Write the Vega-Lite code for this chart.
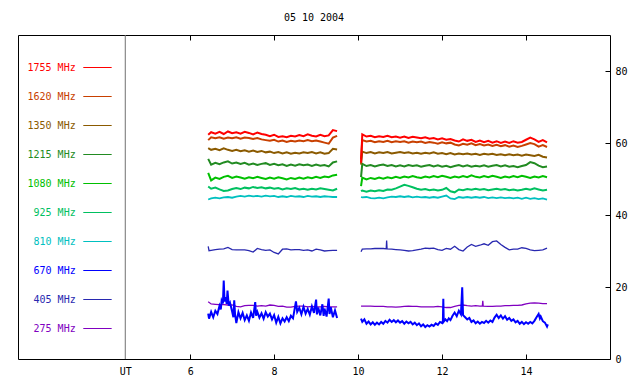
{
"$schema": "https://vega.github.io/schema/vega-lite/v6.json",
"width": 592, "height": 324,
"autosize": {"type": "none"},
"padding": {"left": 18, "top": 35, "right": 30, "bottom": 25},
"background": "white",
"config": {"view": {"stroke": "black", "strokeWidth": 1}, "font": "DejaVu Sans Mono",
  "axis": {"labelFont": "DejaVu Sans Mono", "labelFontSize": 10, "labelColor": "black", "tickColor": "black", "grid": false, "domain": false, "title": null}},
"title": {"text": "05 10 2004", "fontSize": 10, "fontWeight": "normal", "font": "DejaVu Sans Mono", "color": "black", "offset": 12},
"datasets": {
"bands": [{"band":"1755 MHz"},{"band":"1620 MHz"},{"band":"1350 MHz"},{"band":"1215 MHz"},{"band":"1080 MHz"},{"band":"925 MHz"},{"band":"810 MHz"},{"band":"670 MHz"},{"band":"405 MHz"},{"band":"275 MHz"}],
"marker": [{"label":"UT"}],
"f1755": [{"hour":6.43,"sfu":62.3},{"hour":6.5,"sfu":63.0},{"hour":6.6,"sfu":62.6},{"hour":6.7,"sfu":63.1},{"hour":6.8,"sfu":62.5},{"hour":6.9,"sfu":63.2},{"hour":7.0,"sfu":62.7},{"hour":7.1,"sfu":63.0},{"hour":7.2,"sfu":62.6},{"hour":7.3,"sfu":63.1},{"hour":7.4,"sfu":62.8},{"hour":7.5,"sfu":62.4},{"hour":7.6,"sfu":62.9},{"hour":7.7,"sfu":62.5},{"hour":7.8,"sfu":62.3},{"hour":7.9,"sfu":61.9},{"hour":8.0,"sfu":62.3},{"hour":8.1,"sfu":61.7},{"hour":8.2,"sfu":61.9},{"hour":8.3,"sfu":61.6},{"hour":8.4,"sfu":62.0},{"hour":8.5,"sfu":61.8},{"hour":8.6,"sfu":62.2},{"hour":8.7,"sfu":61.9},{"hour":8.8,"sfu":62.4},{"hour":8.9,"sfu":62.0},{"hour":9.0,"sfu":61.8},{"hour":9.1,"sfu":62.3},{"hour":9.2,"sfu":61.9},{"hour":9.3,"sfu":62.1},{"hour":9.4,"sfu":63.6},{"hour":9.5,"sfu":63.3},{"hour":9.8,"sfu":null},
{"hour":10.07,"sfu":54.5},{"hour":10.1,"sfu":62.4},{"hour":10.2,"sfu":61.8},{"hour":10.3,"sfu":62.0},{"hour":10.4,"sfu":61.6},{"hour":10.5,"sfu":61.9},{"hour":10.6,"sfu":61.7},{"hour":10.7,"sfu":62.0},{"hour":10.8,"sfu":61.6},{"hour":10.9,"sfu":61.8},{"hour":11.0,"sfu":61.5},{"hour":11.1,"sfu":61.8},{"hour":11.2,"sfu":61.4},{"hour":11.3,"sfu":61.7},{"hour":11.4,"sfu":61.5},{"hour":11.5,"sfu":61.3},{"hour":11.6,"sfu":61.6},{"hour":11.7,"sfu":61.2},{"hour":11.8,"sfu":61.4},{"hour":11.9,"sfu":61.0},{"hour":12.0,"sfu":61.3},{"hour":12.1,"sfu":60.9},{"hour":12.2,"sfu":61.1},{"hour":12.3,"sfu":60.7},{"hour":12.4,"sfu":60.4},{"hour":12.5,"sfu":61.0},{"hour":12.6,"sfu":60.6},{"hour":12.7,"sfu":60.9},{"hour":12.8,"sfu":60.3},{"hour":12.9,"sfu":60.7},{"hour":13.0,"sfu":60.2},{"hour":13.1,"sfu":60.6},{"hour":13.2,"sfu":60.1},{"hour":13.3,"sfu":60.5},{"hour":13.4,"sfu":60.0},{"hour":13.5,"sfu":60.4},{"hour":13.6,"sfu":60.0},{"hour":13.7,"sfu":60.5},{"hour":13.8,"sfu":60.1},{"hour":13.9,"sfu":60.3},{"hour":14.0,"sfu":60.9},{"hour":14.1,"sfu":61.5},{"hour":14.2,"sfu":61.0},{"hour":14.3,"sfu":60.3},{"hour":14.4,"sfu":60.8},{"hour":14.5,"sfu":60.2}],
"f1620": [{"hour":6.43,"sfu":60.8},{"hour":6.5,"sfu":61.6},{"hour":6.6,"sfu":61.3},{"hour":6.7,"sfu":61.6},{"hour":6.8,"sfu":61.2},{"hour":6.9,"sfu":61.5},{"hour":7.0,"sfu":61.3},{"hour":7.1,"sfu":61.6},{"hour":7.2,"sfu":61.2},{"hour":7.3,"sfu":61.5},{"hour":7.4,"sfu":61.4},{"hour":7.5,"sfu":61.1},{"hour":7.6,"sfu":61.4},{"hour":7.7,"sfu":61.0},{"hour":7.8,"sfu":60.8},{"hour":7.9,"sfu":60.6},{"hour":8.0,"sfu":60.9},{"hour":8.1,"sfu":60.4},{"hour":8.2,"sfu":60.7},{"hour":8.3,"sfu":60.3},{"hour":8.4,"sfu":60.6},{"hour":8.5,"sfu":60.4},{"hour":8.6,"sfu":60.7},{"hour":8.7,"sfu":60.5},{"hour":8.8,"sfu":60.8},{"hour":8.9,"sfu":60.5},{"hour":9.0,"sfu":60.7},{"hour":9.1,"sfu":60.4},{"hour":9.2,"sfu":60.1},{"hour":9.3,"sfu":59.8},{"hour":9.4,"sfu":61.5},{"hour":9.5,"sfu":62.0},{"hour":9.8,"sfu":null},
{"hour":10.07,"sfu":55.5},{"hour":10.1,"sfu":60.8},{"hour":10.2,"sfu":60.4},{"hour":10.3,"sfu":60.6},{"hour":10.4,"sfu":60.2},{"hour":10.5,"sfu":60.5},{"hour":10.6,"sfu":60.3},{"hour":10.7,"sfu":60.6},{"hour":10.8,"sfu":60.2},{"hour":10.9,"sfu":60.5},{"hour":11.0,"sfu":60.3},{"hour":11.1,"sfu":60.5},{"hour":11.2,"sfu":60.1},{"hour":11.3,"sfu":60.4},{"hour":11.4,"sfu":60.2},{"hour":11.5,"sfu":60.4},{"hour":11.6,"sfu":60.0},{"hour":11.7,"sfu":60.3},{"hour":11.8,"sfu":60.1},{"hour":11.9,"sfu":59.8},{"hour":12.0,"sfu":60.2},{"hour":12.1,"sfu":59.9},{"hour":12.2,"sfu":60.1},{"hour":12.3,"sfu":59.6},{"hour":12.4,"sfu":59.3},{"hour":12.5,"sfu":59.8},{"hour":12.6,"sfu":59.5},{"hour":12.7,"sfu":59.9},{"hour":12.8,"sfu":59.4},{"hour":12.9,"sfu":59.7},{"hour":13.0,"sfu":59.3},{"hour":13.1,"sfu":59.6},{"hour":13.2,"sfu":59.2},{"hour":13.3,"sfu":59.5},{"hour":13.4,"sfu":59.1},{"hour":13.5,"sfu":59.4},{"hour":13.6,"sfu":59.0},{"hour":13.7,"sfu":59.3},{"hour":13.8,"sfu":58.9},{"hour":13.9,"sfu":59.2},{"hour":14.0,"sfu":59.6},{"hour":14.1,"sfu":60.0},{"hour":14.2,"sfu":59.7},{"hour":14.3,"sfu":59.0},{"hour":14.4,"sfu":59.4},{"hour":14.5,"sfu":58.9}],
"f1350": [{"hour":6.43,"sfu":58.6},{"hour":6.5,"sfu":58.1},{"hour":6.6,"sfu":58.4},{"hour":6.7,"sfu":58.0},{"hour":6.8,"sfu":58.5},{"hour":6.9,"sfu":58.1},{"hour":7.0,"sfu":57.8},{"hour":7.1,"sfu":58.1},{"hour":7.2,"sfu":57.7},{"hour":7.3,"sfu":58.0},{"hour":7.4,"sfu":57.6},{"hour":7.5,"sfu":57.9},{"hour":7.6,"sfu":57.5},{"hour":7.7,"sfu":57.8},{"hour":7.8,"sfu":57.4},{"hour":7.9,"sfu":57.6},{"hour":8.0,"sfu":57.2},{"hour":8.1,"sfu":57.5},{"hour":8.2,"sfu":57.1},{"hour":8.3,"sfu":57.4},{"hour":8.4,"sfu":57.0},{"hour":8.5,"sfu":57.3},{"hour":8.6,"sfu":57.1},{"hour":8.7,"sfu":57.4},{"hour":8.8,"sfu":57.2},{"hour":8.9,"sfu":57.5},{"hour":9.0,"sfu":57.1},{"hour":9.1,"sfu":57.4},{"hour":9.2,"sfu":57.0},{"hour":9.3,"sfu":57.2},{"hour":9.4,"sfu":58.4},{"hour":9.5,"sfu":58.2},{"hour":9.8,"sfu":null},
{"hour":10.07,"sfu":54.0},{"hour":10.1,"sfu":57.6},{"hour":10.2,"sfu":57.2},{"hour":10.3,"sfu":57.5},{"hour":10.4,"sfu":57.1},{"hour":10.5,"sfu":57.4},{"hour":10.6,"sfu":57.2},{"hour":10.7,"sfu":57.5},{"hour":10.8,"sfu":57.1},{"hour":10.9,"sfu":57.3},{"hour":11.0,"sfu":57.5},{"hour":11.1,"sfu":57.2},{"hour":11.2,"sfu":57.4},{"hour":11.3,"sfu":57.1},{"hour":11.4,"sfu":57.3},{"hour":11.5,"sfu":57.0},{"hour":11.6,"sfu":57.3},{"hour":11.7,"sfu":57.1},{"hour":11.8,"sfu":57.4},{"hour":11.9,"sfu":57.0},{"hour":12.0,"sfu":57.2},{"hour":12.1,"sfu":56.9},{"hour":12.2,"sfu":57.2},{"hour":12.3,"sfu":56.8},{"hour":12.4,"sfu":57.1},{"hour":12.5,"sfu":56.9},{"hour":12.6,"sfu":57.1},{"hour":12.7,"sfu":56.8},{"hour":12.8,"sfu":57.0},{"hour":12.9,"sfu":56.7},{"hour":13.0,"sfu":57.0},{"hour":13.1,"sfu":56.8},{"hour":13.2,"sfu":57.0},{"hour":13.3,"sfu":56.7},{"hour":13.4,"sfu":56.9},{"hour":13.5,"sfu":56.6},{"hour":13.6,"sfu":56.9},{"hour":13.7,"sfu":56.6},{"hour":13.8,"sfu":56.8},{"hour":13.9,"sfu":56.5},{"hour":14.0,"sfu":56.8},{"hour":14.1,"sfu":56.6},{"hour":14.2,"sfu":56.4},{"hour":14.3,"sfu":56.7},{"hour":14.4,"sfu":56.2},{"hour":14.5,"sfu":56.0}],
"f1215": [{"hour":6.43,"sfu":55.6},{"hour":6.5,"sfu":54.0},{"hour":6.6,"sfu":54.5},{"hour":6.7,"sfu":54.1},{"hour":6.8,"sfu":54.6},{"hour":6.9,"sfu":54.9},{"hour":7.0,"sfu":54.3},{"hour":7.1,"sfu":54.6},{"hour":7.2,"sfu":54.2},{"hour":7.3,"sfu":54.5},{"hour":7.4,"sfu":54.0},{"hour":7.5,"sfu":54.3},{"hour":7.6,"sfu":53.9},{"hour":7.7,"sfu":54.2},{"hour":7.8,"sfu":54.4},{"hour":7.9,"sfu":53.9},{"hour":8.0,"sfu":54.2},{"hour":8.1,"sfu":53.8},{"hour":8.2,"sfu":54.1},{"hour":8.3,"sfu":53.6},{"hour":8.4,"sfu":54.0},{"hour":8.5,"sfu":53.7},{"hour":8.6,"sfu":54.1},{"hour":8.7,"sfu":53.8},{"hour":8.8,"sfu":54.0},{"hour":8.9,"sfu":53.6},{"hour":9.0,"sfu":54.0},{"hour":9.1,"sfu":53.7},{"hour":9.2,"sfu":53.9},{"hour":9.3,"sfu":53.5},{"hour":9.4,"sfu":54.6},{"hour":9.5,"sfu":54.9},{"hour":9.8,"sfu":null},
{"hour":10.07,"sfu":50.5},{"hour":10.1,"sfu":54.2},{"hour":10.2,"sfu":53.6},{"hour":10.3,"sfu":53.9},{"hour":10.4,"sfu":53.5},{"hour":10.5,"sfu":53.8},{"hour":10.6,"sfu":54.0},{"hour":10.7,"sfu":53.6},{"hour":10.8,"sfu":53.9},{"hour":10.9,"sfu":53.5},{"hour":11.0,"sfu":53.8},{"hour":11.1,"sfu":53.5},{"hour":11.2,"sfu":53.9},{"hour":11.3,"sfu":53.6},{"hour":11.4,"sfu":53.8},{"hour":11.5,"sfu":53.4},{"hour":11.6,"sfu":53.7},{"hour":11.7,"sfu":53.9},{"hour":11.8,"sfu":53.5},{"hour":11.9,"sfu":53.8},{"hour":12.0,"sfu":53.4},{"hour":12.1,"sfu":53.7},{"hour":12.2,"sfu":53.3},{"hour":12.3,"sfu":53.6},{"hour":12.4,"sfu":53.9},{"hour":12.5,"sfu":53.5},{"hour":12.6,"sfu":53.8},{"hour":12.7,"sfu":53.4},{"hour":12.8,"sfu":53.7},{"hour":12.9,"sfu":53.5},{"hour":13.0,"sfu":53.8},{"hour":13.1,"sfu":53.4},{"hour":13.2,"sfu":53.7},{"hour":13.3,"sfu":53.9},{"hour":13.4,"sfu":53.5},{"hour":13.5,"sfu":53.8},{"hour":13.6,"sfu":53.4},{"hour":13.7,"sfu":53.6},{"hour":13.8,"sfu":53.3},{"hour":13.9,"sfu":53.6},{"hour":14.0,"sfu":53.9},{"hour":14.1,"sfu":54.7},{"hour":14.2,"sfu":54.4},{"hour":14.3,"sfu":53.7},{"hour":14.4,"sfu":53.3},{"hour":14.5,"sfu":53.5}],
"f1080": [{"hour":6.43,"sfu":51.7},{"hour":6.5,"sfu":49.6},{"hour":6.6,"sfu":50.4},{"hour":6.7,"sfu":50.0},{"hour":6.8,"sfu":50.6},{"hour":6.9,"sfu":50.9},{"hour":7.0,"sfu":50.3},{"hour":7.1,"sfu":50.7},{"hour":7.2,"sfu":50.4},{"hour":7.3,"sfu":50.1},{"hour":7.4,"sfu":50.5},{"hour":7.5,"sfu":50.2},{"hour":7.6,"sfu":50.6},{"hour":7.7,"sfu":50.3},{"hour":7.8,"sfu":50.0},{"hour":7.9,"sfu":50.4},{"hour":8.0,"sfu":50.1},{"hour":8.1,"sfu":50.5},{"hour":8.2,"sfu":50.2},{"hour":8.3,"sfu":49.9},{"hour":8.4,"sfu":50.3},{"hour":8.5,"sfu":50.0},{"hour":8.6,"sfu":50.4},{"hour":8.7,"sfu":50.1},{"hour":8.8,"sfu":50.5},{"hour":8.9,"sfu":50.2},{"hour":9.0,"sfu":50.6},{"hour":9.1,"sfu":50.3},{"hour":9.2,"sfu":50.7},{"hour":9.3,"sfu":50.5},{"hour":9.4,"sfu":51.0},{"hour":9.5,"sfu":51.2},{"hour":9.8,"sfu":null},
{"hour":10.07,"sfu":48.0},{"hour":10.1,"sfu":50.4},{"hour":10.2,"sfu":49.9},{"hour":10.3,"sfu":50.3},{"hour":10.4,"sfu":50.0},{"hour":10.5,"sfu":50.4},{"hour":10.6,"sfu":50.1},{"hour":10.7,"sfu":50.5},{"hour":10.8,"sfu":50.2},{"hour":10.9,"sfu":50.6},{"hour":11.0,"sfu":50.3},{"hour":11.1,"sfu":50.7},{"hour":11.2,"sfu":50.4},{"hour":11.3,"sfu":50.8},{"hour":11.4,"sfu":50.5},{"hour":11.5,"sfu":50.3},{"hour":11.6,"sfu":50.7},{"hour":11.7,"sfu":50.4},{"hour":11.8,"sfu":50.8},{"hour":11.9,"sfu":50.5},{"hour":12.0,"sfu":50.9},{"hour":12.1,"sfu":50.6},{"hour":12.2,"sfu":50.3},{"hour":12.3,"sfu":50.7},{"hour":12.4,"sfu":50.4},{"hour":12.5,"sfu":50.8},{"hour":12.6,"sfu":50.5},{"hour":12.7,"sfu":51.0},{"hour":12.8,"sfu":50.6},{"hour":12.9,"sfu":50.4},{"hour":13.0,"sfu":50.8},{"hour":13.1,"sfu":50.5},{"hour":13.2,"sfu":50.9},{"hour":13.3,"sfu":50.6},{"hour":13.4,"sfu":50.3},{"hour":13.5,"sfu":50.7},{"hour":13.6,"sfu":50.4},{"hour":13.7,"sfu":50.8},{"hour":13.8,"sfu":50.5},{"hour":13.9,"sfu":50.9},{"hour":14.0,"sfu":50.6},{"hour":14.1,"sfu":50.3},{"hour":14.2,"sfu":50.7},{"hour":14.3,"sfu":50.4},{"hour":14.4,"sfu":50.8},{"hour":14.5,"sfu":50.5}],
"f925": [{"hour":6.43,"sfu":47.9},{"hour":6.5,"sfu":47.3},{"hour":6.6,"sfu":47.6},{"hour":6.7,"sfu":47.1},{"hour":6.8,"sfu":46.7},{"hour":6.9,"sfu":46.8},{"hour":7.0,"sfu":47.2},{"hour":7.1,"sfu":47.5},{"hour":7.2,"sfu":47.2},{"hour":7.3,"sfu":47.6},{"hour":7.4,"sfu":47.4},{"hour":7.5,"sfu":47.8},{"hour":7.6,"sfu":47.5},{"hour":7.7,"sfu":47.7},{"hour":7.8,"sfu":47.4},{"hour":7.9,"sfu":47.6},{"hour":8.0,"sfu":47.3},{"hour":8.1,"sfu":47.5},{"hour":8.2,"sfu":47.1},{"hour":8.3,"sfu":47.4},{"hour":8.4,"sfu":47.2},{"hour":8.5,"sfu":47.5},{"hour":8.6,"sfu":47.1},{"hour":8.7,"sfu":47.3},{"hour":8.8,"sfu":47.0},{"hour":8.9,"sfu":47.3},{"hour":9.0,"sfu":47.1},{"hour":9.1,"sfu":47.4},{"hour":9.2,"sfu":47.2},{"hour":9.3,"sfu":47.0},{"hour":9.4,"sfu":46.8},{"hour":9.5,"sfu":47.3},{"hour":9.8,"sfu":null},
{"hour":10.07,"sfu":46.6},{"hour":10.1,"sfu":46.8},{"hour":10.2,"sfu":46.5},{"hour":10.3,"sfu":46.8},{"hour":10.4,"sfu":46.6},{"hour":10.5,"sfu":46.9},{"hour":10.6,"sfu":46.7},{"hour":10.7,"sfu":47.1},{"hour":10.8,"sfu":47.0},{"hour":10.9,"sfu":47.4},{"hour":11.0,"sfu":47.9},{"hour":11.1,"sfu":48.4},{"hour":11.2,"sfu":48.1},{"hour":11.3,"sfu":47.7},{"hour":11.4,"sfu":47.3},{"hour":11.5,"sfu":47.0},{"hour":11.6,"sfu":47.2},{"hour":11.7,"sfu":46.9},{"hour":11.8,"sfu":47.1},{"hour":11.9,"sfu":46.8},{"hour":12.0,"sfu":47.0},{"hour":12.1,"sfu":47.5},{"hour":12.2,"sfu":46.6},{"hour":12.3,"sfu":46.3},{"hour":12.4,"sfu":47.1},{"hour":12.5,"sfu":46.9},{"hour":12.6,"sfu":47.2},{"hour":12.7,"sfu":47.0},{"hour":12.8,"sfu":47.3},{"hour":12.9,"sfu":47.0},{"hour":13.0,"sfu":47.2},{"hour":13.1,"sfu":46.9},{"hour":13.2,"sfu":47.1},{"hour":13.3,"sfu":47.3},{"hour":13.4,"sfu":47.0},{"hour":13.5,"sfu":47.2},{"hour":13.6,"sfu":46.9},{"hour":13.7,"sfu":47.1},{"hour":13.8,"sfu":46.8},{"hour":13.9,"sfu":47.0},{"hour":14.0,"sfu":47.3},{"hour":14.1,"sfu":47.0},{"hour":14.2,"sfu":47.4},{"hour":14.3,"sfu":47.1},{"hour":14.4,"sfu":46.8},{"hour":14.5,"sfu":47.0}],
"f810": [{"hour":6.43,"sfu":44.3},{"hour":6.5,"sfu":44.6},{"hour":6.6,"sfu":44.8},{"hour":6.7,"sfu":44.6},{"hour":6.8,"sfu":44.9},{"hour":6.9,"sfu":45.0},{"hour":7.0,"sfu":44.8},{"hour":7.1,"sfu":45.1},{"hour":7.2,"sfu":45.3},{"hour":7.3,"sfu":45.1},{"hour":7.4,"sfu":45.4},{"hour":7.5,"sfu":45.2},{"hour":7.6,"sfu":45.3},{"hour":7.7,"sfu":45.1},{"hour":7.8,"sfu":45.4},{"hour":7.9,"sfu":45.2},{"hour":8.0,"sfu":45.3},{"hour":8.1,"sfu":45.0},{"hour":8.2,"sfu":45.2},{"hour":8.3,"sfu":45.0},{"hour":8.4,"sfu":45.3},{"hour":8.5,"sfu":45.1},{"hour":8.6,"sfu":45.2},{"hour":8.7,"sfu":45.0},{"hour":8.8,"sfu":45.3},{"hour":8.9,"sfu":45.1},{"hour":9.0,"sfu":45.2},{"hour":9.1,"sfu":45.0},{"hour":9.2,"sfu":45.2},{"hour":9.3,"sfu":45.1},{"hour":9.4,"sfu":45.0},{"hour":9.5,"sfu":45.0},{"hour":9.8,"sfu":null},
{"hour":10.07,"sfu":45.0},{"hour":10.1,"sfu":44.9},{"hour":10.2,"sfu":45.0},{"hour":10.3,"sfu":44.7},{"hour":10.4,"sfu":44.6},{"hour":10.5,"sfu":44.8},{"hour":10.6,"sfu":44.6},{"hour":10.7,"sfu":44.9},{"hour":10.8,"sfu":45.1},{"hour":10.9,"sfu":45.0},{"hour":11.0,"sfu":45.2},{"hour":11.1,"sfu":45.0},{"hour":11.2,"sfu":45.2},{"hour":11.3,"sfu":44.9},{"hour":11.4,"sfu":45.1},{"hour":11.5,"sfu":44.9},{"hour":11.6,"sfu":45.0},{"hour":11.7,"sfu":44.8},{"hour":11.8,"sfu":45.0},{"hour":11.9,"sfu":44.8},{"hour":12.0,"sfu":45.1},{"hour":12.1,"sfu":45.4},{"hour":12.2,"sfu":44.6},{"hour":12.3,"sfu":44.4},{"hour":12.4,"sfu":45.0},{"hour":12.5,"sfu":44.8},{"hour":12.6,"sfu":45.0},{"hour":12.7,"sfu":44.8},{"hour":12.8,"sfu":45.0},{"hour":12.9,"sfu":44.8},{"hour":13.0,"sfu":45.0},{"hour":13.1,"sfu":44.7},{"hour":13.2,"sfu":44.9},{"hour":13.3,"sfu":44.7},{"hour":13.4,"sfu":44.9},{"hour":13.5,"sfu":44.7},{"hour":13.6,"sfu":44.8},{"hour":13.7,"sfu":44.6},{"hour":13.8,"sfu":44.8},{"hour":13.9,"sfu":44.5},{"hour":14.0,"sfu":44.8},{"hour":14.1,"sfu":44.5},{"hour":14.2,"sfu":44.7},{"hour":14.3,"sfu":44.4},{"hour":14.4,"sfu":44.6},{"hour":14.5,"sfu":44.3}],
"f670": [{"hour":6.43,"sfu":12.6},{"hour":6.45,"sfu":11.2},{"hour":6.5,"sfu":13.1},{"hour":6.55,"sfu":11.6},{"hour":6.6,"sfu":13.4},{"hour":6.65,"sfu":12.5},{"hour":6.7,"sfu":14.8},{"hour":6.73,"sfu":13.8},{"hour":6.75,"sfu":16.2},{"hour":6.78,"sfu":15.4},{"hour":6.8,"sfu":21.8},{"hour":6.82,"sfu":16.0},{"hour":6.85,"sfu":17.2},{"hour":6.87,"sfu":15.3},{"hour":6.89,"sfu":19.0},{"hour":6.92,"sfu":14.8},{"hour":6.95,"sfu":15.6},{"hour":7.0,"sfu":13.2},{"hour":7.03,"sfu":11.6},{"hour":7.05,"sfu":16.3},{"hour":7.07,"sfu":12.4},{"hour":7.1,"sfu":10.0},{"hour":7.15,"sfu":13.0},{"hour":7.2,"sfu":11.3},{"hour":7.25,"sfu":12.8},{"hour":7.3,"sfu":10.8},{"hour":7.35,"sfu":12.1},{"hour":7.4,"sfu":10.6},{"hour":7.45,"sfu":12.9},{"hour":7.5,"sfu":11.4},{"hour":7.55,"sfu":15.8},{"hour":7.57,"sfu":12.0},{"hour":7.6,"sfu":13.1},{"hour":7.65,"sfu":11.5},{"hour":7.7,"sfu":12.7},{"hour":7.75,"sfu":11.2},{"hour":7.8,"sfu":13.0},{"hour":7.85,"sfu":11.8},{"hour":7.9,"sfu":12.6},{"hour":7.95,"sfu":11.0},{"hour":8.0,"sfu":12.2},{"hour":8.05,"sfu":10.1},{"hour":8.1,"sfu":11.7},{"hour":8.15,"sfu":9.9},{"hour":8.2,"sfu":11.3},{"hour":8.25,"sfu":10.4},{"hour":8.3,"sfu":11.6},{"hour":8.35,"sfu":10.5},{"hour":8.4,"sfu":12.0},{"hour":8.45,"sfu":11.3},{"hour":8.5,"sfu":14.6},{"hour":8.52,"sfu":16.0},{"hour":8.55,"sfu":13.1},{"hour":8.6,"sfu":14.2},{"hour":8.65,"sfu":12.4},{"hour":8.7,"sfu":14.5},{"hour":8.75,"sfu":12.6},{"hour":8.8,"sfu":13.9},{"hour":8.85,"sfu":12.3},{"hour":8.9,"sfu":14.6},{"hour":8.95,"sfu":12.8},{"hour":9.0,"sfu":16.5},{"hour":9.02,"sfu":12.4},{"hour":9.05,"sfu":14.3},{"hour":9.1,"sfu":12.1},{"hour":9.15,"sfu":15.2},{"hour":9.18,"sfu":12.0},{"hour":9.2,"sfu":14.0},{"hour":9.25,"sfu":11.8},{"hour":9.3,"sfu":16.8},{"hour":9.32,"sfu":12.5},{"hour":9.35,"sfu":14.4},{"hour":9.4,"sfu":11.6},{"hour":9.45,"sfu":13.5},{"hour":9.5,"sfu":11.4},{"hour":9.8,"sfu":null},
{"hour":10.07,"sfu":11.2},{"hour":10.1,"sfu":10.3},{"hour":10.15,"sfu":11.0},{"hour":10.2,"sfu":9.8},{"hour":10.25,"sfu":10.4},{"hour":10.3,"sfu":9.6},{"hour":10.35,"sfu":10.2},{"hour":10.4,"sfu":9.5},{"hour":10.45,"sfu":10.1},{"hour":10.5,"sfu":9.6},{"hour":10.55,"sfu":10.3},{"hour":10.6,"sfu":9.8},{"hour":10.65,"sfu":10.6},{"hour":10.7,"sfu":10.1},{"hour":10.75,"sfu":10.9},{"hour":10.8,"sfu":10.3},{"hour":10.85,"sfu":10.8},{"hour":10.9,"sfu":10.2},{"hour":10.95,"sfu":10.7},{"hour":11.0,"sfu":10.1},{"hour":11.05,"sfu":10.5},{"hour":11.1,"sfu":9.8},{"hour":11.15,"sfu":10.4},{"hour":11.2,"sfu":9.9},{"hour":11.25,"sfu":10.3},{"hour":11.3,"sfu":9.6},{"hour":11.35,"sfu":10.1},{"hour":11.4,"sfu":9.4},{"hour":11.45,"sfu":9.9},{"hour":11.5,"sfu":9.1},{"hour":11.55,"sfu":9.6},{"hour":11.6,"sfu":8.9},{"hour":11.65,"sfu":9.4},{"hour":11.7,"sfu":9.0},{"hour":11.75,"sfu":9.5},{"hour":11.8,"sfu":9.2},{"hour":11.85,"sfu":9.9},{"hour":11.9,"sfu":9.5},{"hour":11.95,"sfu":10.3},{"hour":12.0,"sfu":10.0},{"hour":12.02,"sfu":10.6},{"hour":12.03,"sfu":16.7},{"hour":12.04,"sfu":10.4},{"hour":12.08,"sfu":11.0},{"hour":12.12,"sfu":10.5},{"hour":12.16,"sfu":11.3},{"hour":12.2,"sfu":10.8},{"hour":12.25,"sfu":12.0},{"hour":12.3,"sfu":12.9},{"hour":12.35,"sfu":11.9},{"hour":12.4,"sfu":13.4},{"hour":12.45,"sfu":12.4},{"hour":12.48,"sfu":19.9},{"hour":12.5,"sfu":12.2},{"hour":12.55,"sfu":11.6},{"hour":12.6,"sfu":11.0},{"hour":12.65,"sfu":11.4},{"hour":12.7,"sfu":10.3},{"hour":12.75,"sfu":10.7},{"hour":12.8,"sfu":9.9},{"hour":12.85,"sfu":10.4},{"hour":12.9,"sfu":9.8},{"hour":12.95,"sfu":10.3},{"hour":13.0,"sfu":10.0},{"hour":13.05,"sfu":10.6},{"hour":13.1,"sfu":10.1},{"hour":13.15,"sfu":10.7},{"hour":13.2,"sfu":10.3},{"hour":13.25,"sfu":11.5},{"hour":13.3,"sfu":12.3},{"hour":13.35,"sfu":11.4},{"hour":13.4,"sfu":12.1},{"hour":13.45,"sfu":11.2},{"hour":13.5,"sfu":11.9},{"hour":13.55,"sfu":10.9},{"hour":13.6,"sfu":11.4},{"hour":13.65,"sfu":10.6},{"hour":13.7,"sfu":11.0},{"hour":13.75,"sfu":10.2},{"hour":13.8,"sfu":10.6},{"hour":13.85,"sfu":9.8},{"hour":13.9,"sfu":10.3},{"hour":13.95,"sfu":9.7},{"hour":14.0,"sfu":10.2},{"hour":14.05,"sfu":9.8},{"hour":14.1,"sfu":10.3},{"hour":14.15,"sfu":9.9},{"hour":14.2,"sfu":10.6},{"hour":14.25,"sfu":11.6},{"hour":14.3,"sfu":12.5},{"hour":14.33,"sfu":11.3},{"hour":14.35,"sfu":11.8},{"hour":14.4,"sfu":10.5},{"hour":14.45,"sfu":10.1},{"hour":14.5,"sfu":9.0},{"hour":14.52,"sfu":9.6}],
"f405": [{"hour":6.43,"sfu":31.3},{"hour":6.45,"sfu":30.1},{"hour":6.5,"sfu":30.2},{"hour":6.6,"sfu":30.4},{"hour":6.7,"sfu":30.5},{"hour":6.8,"sfu":30.6},{"hour":6.9,"sfu":31.0},{"hour":7.0,"sfu":30.4},{"hour":7.1,"sfu":30.3},{"hour":7.2,"sfu":30.3},{"hour":7.3,"sfu":30.3},{"hour":7.4,"sfu":30.1},{"hour":7.5,"sfu":29.7},{"hour":7.6,"sfu":30.7},{"hour":7.7,"sfu":30.4},{"hour":7.8,"sfu":30.2},{"hour":7.9,"sfu":30.3},{"hour":8.0,"sfu":29.6},{"hour":8.1,"sfu":29.2},{"hour":8.2,"sfu":30.5},{"hour":8.3,"sfu":30.6},{"hour":8.4,"sfu":30.3},{"hour":8.5,"sfu":30.4},{"hour":8.6,"sfu":30.4},{"hour":8.7,"sfu":30.2},{"hour":8.8,"sfu":30.3},{"hour":8.9,"sfu":30.0},{"hour":9.0,"sfu":30.5},{"hour":9.1,"sfu":30.3},{"hour":9.2,"sfu":30.0},{"hour":9.3,"sfu":30.1},{"hour":9.4,"sfu":30.2},{"hour":9.5,"sfu":30.2},{"hour":9.8,"sfu":null},
{"hour":10.07,"sfu":29.8},{"hour":10.1,"sfu":30.5},{"hour":10.2,"sfu":30.6},{"hour":10.3,"sfu":30.6},{"hour":10.4,"sfu":30.7},{"hour":10.5,"sfu":30.7},{"hour":10.6,"sfu":30.7},{"hour":10.67,"sfu":30.6},{"hour":10.68,"sfu":32.9},{"hour":10.69,"sfu":30.6},{"hour":10.8,"sfu":30.5},{"hour":10.9,"sfu":30.4},{"hour":11.0,"sfu":30.3},{"hour":11.1,"sfu":30.2},{"hour":11.2,"sfu":30.0},{"hour":11.3,"sfu":30.1},{"hour":11.4,"sfu":30.3},{"hour":11.5,"sfu":30.5},{"hour":11.6,"sfu":30.8},{"hour":11.7,"sfu":30.7},{"hour":11.8,"sfu":30.8},{"hour":11.9,"sfu":30.4},{"hour":12.0,"sfu":30.2},{"hour":12.1,"sfu":30.7},{"hour":12.2,"sfu":30.5},{"hour":12.3,"sfu":31.3},{"hour":12.4,"sfu":30.4},{"hour":12.5,"sfu":30.0},{"hour":12.6,"sfu":31.1},{"hour":12.7,"sfu":31.8},{"hour":12.8,"sfu":31.3},{"hour":12.9,"sfu":31.6},{"hour":13.0,"sfu":32.0},{"hour":13.1,"sfu":31.6},{"hour":13.2,"sfu":32.6},{"hour":13.3,"sfu":32.8},{"hour":13.4,"sfu":31.8},{"hour":13.5,"sfu":31.0},{"hour":13.6,"sfu":30.3},{"hour":13.7,"sfu":30.5},{"hour":13.8,"sfu":30.5},{"hour":13.9,"sfu":30.9},{"hour":14.0,"sfu":30.7},{"hour":14.1,"sfu":30.3},{"hour":14.2,"sfu":30.1},{"hour":14.3,"sfu":30.2},{"hour":14.4,"sfu":30.3},{"hour":14.5,"sfu":30.8}],
"f275": [{"hour":6.43,"sfu":15.9},{"hour":6.5,"sfu":15.3},{"hour":6.6,"sfu":15.2},{"hour":6.7,"sfu":15.1},{"hour":6.8,"sfu":15.1},{"hour":6.9,"sfu":15.0},{"hour":7.0,"sfu":15.0},{"hour":7.1,"sfu":14.6},{"hour":7.2,"sfu":14.5},{"hour":7.3,"sfu":14.8},{"hour":7.4,"sfu":14.9},{"hour":7.5,"sfu":14.9},{"hour":7.6,"sfu":14.7},{"hour":7.7,"sfu":14.8},{"hour":7.8,"sfu":14.7},{"hour":7.9,"sfu":15.0},{"hour":8.0,"sfu":14.9},{"hour":8.1,"sfu":14.6},{"hour":8.2,"sfu":14.7},{"hour":8.3,"sfu":14.4},{"hour":8.4,"sfu":14.4},{"hour":8.5,"sfu":14.6},{"hour":8.6,"sfu":14.7},{"hour":8.7,"sfu":14.7},{"hour":8.8,"sfu":14.5},{"hour":8.9,"sfu":14.6},{"hour":9.0,"sfu":14.5},{"hour":9.1,"sfu":14.5},{"hour":9.2,"sfu":14.6},{"hour":9.3,"sfu":14.5},{"hour":9.4,"sfu":14.5},{"hour":9.5,"sfu":14.5},{"hour":9.8,"sfu":null},
{"hour":10.07,"sfu":14.7},{"hour":10.1,"sfu":14.7},{"hour":10.2,"sfu":14.7},{"hour":10.3,"sfu":14.7},{"hour":10.4,"sfu":14.6},{"hour":10.5,"sfu":14.6},{"hour":10.6,"sfu":14.6},{"hour":10.7,"sfu":14.5},{"hour":10.8,"sfu":14.5},{"hour":10.9,"sfu":14.4},{"hour":11.0,"sfu":14.5},{"hour":11.1,"sfu":14.6},{"hour":11.2,"sfu":14.7},{"hour":11.3,"sfu":14.6},{"hour":11.4,"sfu":14.6},{"hour":11.5,"sfu":14.5},{"hour":11.6,"sfu":14.5},{"hour":11.7,"sfu":14.5},{"hour":11.8,"sfu":14.5},{"hour":11.9,"sfu":14.6},{"hour":12.0,"sfu":14.5},{"hour":12.1,"sfu":14.3},{"hour":12.2,"sfu":14.3},{"hour":12.3,"sfu":14.6},{"hour":12.4,"sfu":14.9},{"hour":12.5,"sfu":15.0},{"hour":12.6,"sfu":14.8},{"hour":12.7,"sfu":14.7},{"hour":12.8,"sfu":14.8},{"hour":12.9,"sfu":14.7},{"hour":12.96,"sfu":14.7},{"hour":12.97,"sfu":16.2},{"hour":12.98,"sfu":14.7},{"hour":13.1,"sfu":14.6},{"hour":13.2,"sfu":14.6},{"hour":13.3,"sfu":14.7},{"hour":13.4,"sfu":14.7},{"hour":13.5,"sfu":14.8},{"hour":13.6,"sfu":14.8},{"hour":13.7,"sfu":14.9},{"hour":13.8,"sfu":14.9},{"hour":13.9,"sfu":15.0},{"hour":14.0,"sfu":15.3},{"hour":14.1,"sfu":15.5},{"hour":14.2,"sfu":15.6},{"hour":14.3,"sfu":15.5},{"hour":14.4,"sfu":15.4},{"hour":14.5,"sfu":15.4}]
},
"layer": [
  {
    "data": {"name": "marker"},
    "mark": {"type": "rule", "color": "#707070", "strokeWidth": 1},
    "encoding": {"x": {"datum": 4.455, "type": "quantitative", "scale": {"domain": [1.9, 16], "zero": false, "nice": false}, "axis": null}}
  },
  {
    "data": {"name": "bands"},
    "encoding": {
      "y": {"field": "band", "type": "ordinal", "sort": null, "scale": {"range": [18, 308]}, "axis": null},
      "color": {"field": "band", "type": "nominal", "legend": null,
        "scale": {"domain": ["1755 MHz","1620 MHz","1350 MHz","1215 MHz","1080 MHz","925 MHz","810 MHz","670 MHz","405 MHz","275 MHz"],
                  "range": ["#ff0000","#c84000","#8b5a00","#228b22","#00c000","#00c060","#00c0c0","#0000ff","#2828b0","#8000c0"]}}
    },
    "layer": [
      {"mark": {"type": "text", "align": "right", "baseline": "middle", "fontSize": 10, "font": "DejaVu Sans Mono"},
       "encoding": {"x": {"datum": 3.274, "type": "quantitative", "scale": {"domain": [1.9, 16], "zero": false, "nice": false},
                          "axis": {"orient": "top", "values": [6, 8, 10, 12, 14], "labels": false, "tickSize": -5, "domain": false, "grid": false, "title": null}},
                    "text": {"field": "band"}}},
      {"mark": {"type": "rule", "strokeWidth": 1},
       "encoding": {"x": {"datum": 3.455, "type": "quantitative"}, "x2": {"datum": 4.131}}}
    ]
  },
  {
    "encoding": {
      "x": {"field": "hour", "type": "quantitative", "scale": {"domain": [1.9, 16], "zero": false, "nice": false},
            "axis": {"orient": "bottom", "values": [4.455, 6, 8, 10, 12, 14], "format": "d", "labelExpr": "datum.value < 5 ? 'UT' : datum.label", "tickSize": -5, "labelPadding": 12,
                     "tickColor": {"condition": {"test": "datum.value < 5", "value": "transparent"}, "value": "black"}}},
      "y": {"field": "sfu", "type": "quantitative", "scale": {"domain": [0, 90]},
            "axis": {"orient": "right", "values": [0, 20, 40, 60, 80], "tickSize": -5, "labelPadding": 10}}
    },
    "layer": [
      {"data": {"name": "f275"}, "mark": {"type": "line", "strokeWidth": 1.3}, "encoding": {"color": {"datum": "275 MHz", "type": "nominal"}}},
      {"data": {"name": "f670"}, "mark": {"type": "line", "strokeWidth": 2}, "encoding": {"color": {"datum": "670 MHz", "type": "nominal"}}},
      {"data": {"name": "f405"}, "mark": {"type": "line", "strokeWidth": 1.3}, "encoding": {"color": {"datum": "405 MHz", "type": "nominal"}}},
      {"data": {"name": "f810"}, "mark": {"type": "line", "strokeWidth": 1.8}, "encoding": {"color": {"datum": "810 MHz", "type": "nominal"}}},
      {"data": {"name": "f925"}, "mark": {"type": "line", "strokeWidth": 2}, "encoding": {"color": {"datum": "925 MHz", "type": "nominal"}}},
      {"data": {"name": "f1080"}, "mark": {"type": "line", "strokeWidth": 2}, "encoding": {"color": {"datum": "1080 MHz", "type": "nominal"}}},
      {"data": {"name": "f1215"}, "mark": {"type": "line", "strokeWidth": 2}, "encoding": {"color": {"datum": "1215 MHz", "type": "nominal"}}},
      {"data": {"name": "f1350"}, "mark": {"type": "line", "strokeWidth": 2}, "encoding": {"color": {"datum": "1350 MHz", "type": "nominal"}}},
      {"data": {"name": "f1620"}, "mark": {"type": "line", "strokeWidth": 2}, "encoding": {"color": {"datum": "1620 MHz", "type": "nominal"}}},
      {"data": {"name": "f1755"}, "mark": {"type": "line", "strokeWidth": 2}, "encoding": {"color": {"datum": "1755 MHz", "type": "nominal"}}}
    ]
  }
],
"resolve": {"scale": {"y": "independent"}, "axis": {"x": "independent"}}
}
